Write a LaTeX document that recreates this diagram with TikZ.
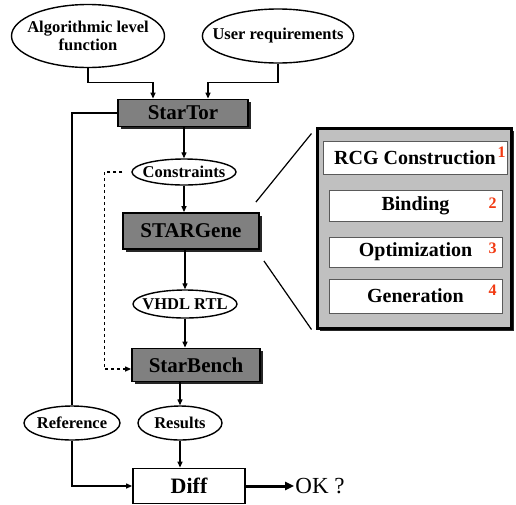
\documentclass[tikz,border=0pt]{standalone}
\usepackage{fontspec}
\setmainfont{Liberation Serif}
\usetikzlibrary{arrows.meta,shapes.geometric,shadows}
\definecolor{kutuGri}{HTML}{808080}
\definecolor{panelGri}{HTML}{C0C0C0}
\definecolor{kenarGri}{HTML}{5A5A5A}
\definecolor{numaraKirmizi}{HTML}{F23A12}

\begin{document}
\begin{tikzpicture}[x=1pt,y=-1pt,
  akis/.style={-{Triangle[length=6pt,width=5pt]},line width=1.2pt},
  kesikAkis/.style={akis,dashed},
  kalinOk/.style={-{Triangle[length=9pt,width=8pt]},line width=3pt},
  elips/.style={ellipse,draw,line width=1.4pt,fill=white,align=center,
    inner xsep=-12pt,inner ysep=0pt,font=\fontsize{16.5}{18}\selectfont\bfseries},
  griKutu/.style={draw,line width=1.8pt,fill=kutuGri,inner sep=0pt,
    drop shadow={shadow xshift=2.5pt,shadow yshift=-2.5pt,fill=black!85,opacity=1},
    font=\fontsize{21}{23}\selectfont\bfseries},
  beyazKutu/.style={draw,line width=1.8pt,fill=white,inner sep=0pt,
    font=\fontsize{22}{24}\selectfont\bfseries},
  panel/.style={draw,line width=3pt,fill=panelGri,
    drop shadow={shadow xshift=3pt,shadow yshift=-3pt,fill=black!85,opacity=1}},
  adimKutu/.style={draw=kenarGri,line width=1pt,fill=white,inner sep=0pt,
    font=\fontsize{20}{22}\selectfont\bfseries},
  numara/.style={text=numaraKirmizi,inner sep=0pt,font=\fontsize{16}{18}\selectfont\bfseries}]
\useasboundingbox (0,0) rectangle (516,504);
% girisler
\node[elips,minimum width=153pt,minimum height=63pt] (algo) at (88,36) {Algorithmic level\\function};
\node[elips,minimum width=148pt,minimum height=54pt] (user) at (278,36) {User requirements};
% ana akis
\node[griKutu,minimum width=130pt,minimum height=27pt] (startor) at (183,113) {StarTor};
\node[elips,minimum width=104pt,minimum height=26pt] (constraints) at (184,172) {Constraints};
\node[griKutu,minimum width=136pt,minimum height=36pt] (stargene) at (191,231) {STARGene};
\node[elips,minimum width=104pt,minimum height=28pt] (vhdl) at (185,304) {VHDL RTL};
\node[griKutu,minimum width=128pt,minimum height=33pt] (starbench) at (196,365) {StarBench};
\node[elips,minimum width=84pt,minimum height=34pt] (results) at (180,423) {Results};
\node[elips,minimum width=96pt,minimum height=34pt] (reference) at (72,423) {Reference};
\node[beyazKutu,minimum width=112pt,minimum height=35pt] (diff) at (189,486) {Diff};
\node[inner sep=1pt,font=\fontsize{23}{25}\selectfont] (ok) at (320,486) {OK ?};
% baglantilar
\draw[akis] (algo.south) -- ++(0,14) -| ([xshift=-30pt]startor.north);
\draw[akis] (user.south) -- ++(0,19) -| ([xshift=25pt]startor.north);
\draw[akis] (constraints.north |- startor.south) -- (constraints.north);
\draw[akis] (constraints.south) -- (constraints.south |- stargene.north);
\draw[akis] (vhdl.north |- stargene.south) -- (vhdl.north);
\draw[akis] (vhdl.south) -- (vhdl.south |- starbench.north);
\draw[akis] (results.north |- starbench.south) -- (results.north);
\draw[akis] (results.south) -- (results.south |- diff.north);
\draw[line width=1.2pt] (startor.west) -| (reference.north);
\draw[akis] (reference.south) |- (diff.west);
\draw[kesikAkis] ([xshift=-9pt]constraints.west) -- ++(-18,0) |- ([yshift=-4pt]starbench.west);
\draw[kalinOk] (diff.east) -- (ok.west);
% STARGene ayrintisi
\node[panel,minimum width=194pt,minimum height=200pt] (panel) at (414,228) {};
\node[adimKutu,minimum width=184pt,minimum height=33pt] (rcg) at (415,157.5) {RCG Construction\hspace{8pt}};
\node[adimKutu,minimum width=173pt,minimum height=31pt] (binding) at (415.5,205.5) {Binding};
\node[adimKutu,minimum width=173pt,minimum height=30pt] (optim) at (415.5,252) {Optimization};
\node[adimKutu,minimum width=173pt,minimum height=34pt] (gen) at (415.5,296) {Generation};
\node[numara] (num1) at ([xshift=-6pt,yshift=5pt]rcg.east) {1};
\node[numara] (num2) at ([xshift=-10pt,yshift=2.5pt]binding.east) {2};
\node[numara] (num3) at ([xshift=-10pt,yshift=4pt]optim.east) {3};
\node[numara] (num4) at ([xshift=-10pt,yshift=6pt]gen.east) {4};
% yakinlastirma cizgileri
\draw[line width=1.2pt] ([xshift=-4pt,yshift=10pt]stargene.north east) -- ([xshift=-4pt,yshift=-7pt]panel.north west);
\draw[line width=1.2pt] ([xshift=4pt,yshift=-11pt]stargene.south east) -- ([xshift=-4pt]panel.south west);
\end{tikzpicture}
\end{document}
